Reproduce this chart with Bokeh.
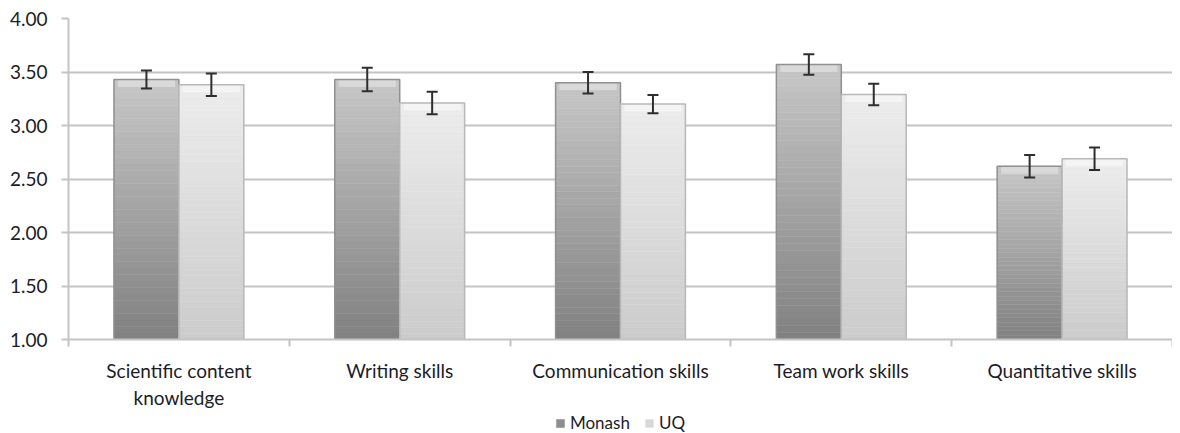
import numpy as np
from bokeh.plotting import figure
from bokeh.layouts import column
from bokeh.models import (ColumnDataSource, Range1d, FixedTicker, NumeralTickFormatter,
                          Whisker, Legend, LegendItem)
from bokeh.embed import file_html
from bokeh.resources import INLINE

categories = ["Scientific content\nknowledge", "Writing skills", "Communication skills",
              "Team work skills", "Quantitative skills"]
series = ["Monash", "UQ"]
monash = [3.43, 3.43, 3.40, 3.57, 2.62]
uq = [3.38, 3.21, 3.20, 3.29, 2.69]
monash_err = [0.085, 0.11, 0.10, 0.095, 0.105]
uq_err = [0.105, 0.105, 0.085, 0.10, 0.105]
y_ticks = [1.0, 1.5, 2.0, 2.5, 3.0, 3.5, 4.0]

FONT = "Lato"
TXT = "#1c1c28"
FS = "19px"

p = figure(width=1172, height=412, output_backend="svg", toolbar_location=None,
           x_range=Range1d(0, len(categories)), y_range=Range1d(1.0, 4.0),
           min_border_left=68, min_border_right=0, min_border_top=18, min_border_bottom=73)
p.outline_line_color = None
p.background_fill_color = "white"
p.border_fill_color = "white"

# axes
p.yaxis.ticker = FixedTicker(ticks=y_ticks)
p.yaxis.formatter = NumeralTickFormatter(format="0.00")
p.yaxis.major_label_text_font = FONT
p.yaxis.major_label_text_font_size = FS
p.yaxis.major_label_text_color = TXT
p.yaxis.axis_line_color = "#c4c4c4"
p.yaxis.axis_line_width = 2
p.yaxis.major_tick_line_color = "#c4c4c4"
p.yaxis.major_tick_line_width = 2
p.yaxis.major_tick_out = 7
p.yaxis.major_tick_in = 0
p.yaxis.minor_tick_line_color = None
p.yaxis.major_label_standoff = 14

centers = [i + 0.5 for i in range(len(categories))]
p.xaxis.ticker = FixedTicker(ticks=centers, minor_ticks=list(range(len(categories) + 1)))
p.xaxis.major_label_overrides = {c: lab for c, lab in zip(centers, categories)}
p.xaxis.major_label_text_font = FONT
p.xaxis.major_label_text_font_size = FS
p.xaxis.major_label_text_color = TXT
p.xaxis.major_tick_line_color = None
p.xaxis.major_tick_out = 0
p.xaxis.major_tick_in = 0
p.xaxis.minor_tick_line_color = "#c4c4c4"
p.xaxis.minor_tick_line_width = 2
p.xaxis.minor_tick_out = 7
p.xaxis.minor_tick_in = 0
p.xaxis.axis_line_color = "#c4c4c4"
p.xaxis.axis_line_width = 2
p.xaxis.major_label_standoff = 12

p.xgrid.grid_line_color = None
p.ygrid.grid_line_color = "#c4c4c4"
p.ygrid.grid_line_width = 2

# bars with vertical gradient
W = 0.294
OFF = 0.147
N = 40


def hexc(v):
    v = int(round(v))
    return "#%02x%02x%02x" % (v, v, v)


def gradient_bars(vals, xoff, c_bot, c_top, c_cap, edge):
    xs, bots, tops, cols = [], [], [], []
    for i, v in enumerate(vals):
        for k in range(N):
            b = 1.0 + (v - 1.0) * k / N
            t = 1.0 + (v - 1.0) * (k + 1) / N
            f = k / (N - 1)
            xs.append(centers[i] + xoff)
            bots.append(b)
            tops.append(t)
            cols.append(hexc(c_bot + (c_top - c_bot) * f))
    src = ColumnDataSource(dict(x=xs, bottom=bots, top=tops, color=cols))
    p.vbar(x="x", bottom="bottom", top="top", width=W, source=src,
           fill_color="color", line_color="color", line_width=0.5)
    cap = ColumnDataSource(dict(x=[c + xoff for c in centers],
                                bottom=[v - 0.07 for v in vals], top=vals))
    p.vbar(x="x", bottom="bottom", top="top", width=W * 0.88, source=cap,
           fill_color=hexc(c_cap), line_color=None, fill_alpha=0.85)
    out = ColumnDataSource(dict(x=[c + xoff for c in centers], top=vals))
    p.vbar(x="x", bottom=1.0, top="top", width=W, source=out,
           fill_color=None, line_color=edge, line_width=1.5)


gradient_bars(monash, -OFF, 0x82, 0xc6, 0xdc, "#909090")
gradient_bars(uq, OFF, 0xcc, 0xec, 0xf6, "#b8b8b8")

# error bars
for vals, errs, xoff in [(monash, monash_err, -OFF), (uq, uq_err, OFF)]:
    es = ColumnDataSource(dict(x=[c + xoff for c in centers],
                               lower=[v - e for v, e in zip(vals, errs)],
                               upper=[v + e for v, e in zip(vals, errs)]))
    wk = Whisker(base="x", lower="lower", upper="upper", source=es,
                 line_color="#2e2e2e", line_width=2, level="overlay")
    for h in (wk.upper_head, wk.lower_head):
        h.size = 11
        h.line_color = "#2e2e2e"
        h.line_width = 2
    p.add_layout(wk)

# legend in a small strip below
q = figure(width=1172, height=21, output_backend="svg", toolbar_location=None,
           x_range=Range1d(0, 1), y_range=Range1d(0, 1),
           min_border_left=0, min_border_right=0, min_border_top=0, min_border_bottom=0)
q.axis.visible = False
q.grid.grid_line_color = None
q.outline_line_color = None
lm = q.quad(left=[-10], right=[-9], bottom=[-10], top=[-9], fill_color="#8e8e8e",
            line_color="#a8a8a8")
lu = q.quad(left=[-10], right=[-9], bottom=[-10], top=[-9], fill_color="#d8d8d8",
            line_color="#e6e6e6")
legend = Legend(items=[LegendItem(label=series[0], renderers=[lm]),
                       LegendItem(label=series[1], renderers=[lu])],
                orientation="horizontal", location="top_center",
                label_text_font=FONT, label_text_font_size="17px", label_text_color=TXT,
                label_height=17, glyph_width=10, glyph_height=10, label_standoff=5,
                spacing=14, border_line_color=None, background_fill_alpha=0,
                padding=0, margin=0)
q.add_layout(legend)

open("out.html", "w").write(file_html(column(p, q, spacing=0), INLINE))
